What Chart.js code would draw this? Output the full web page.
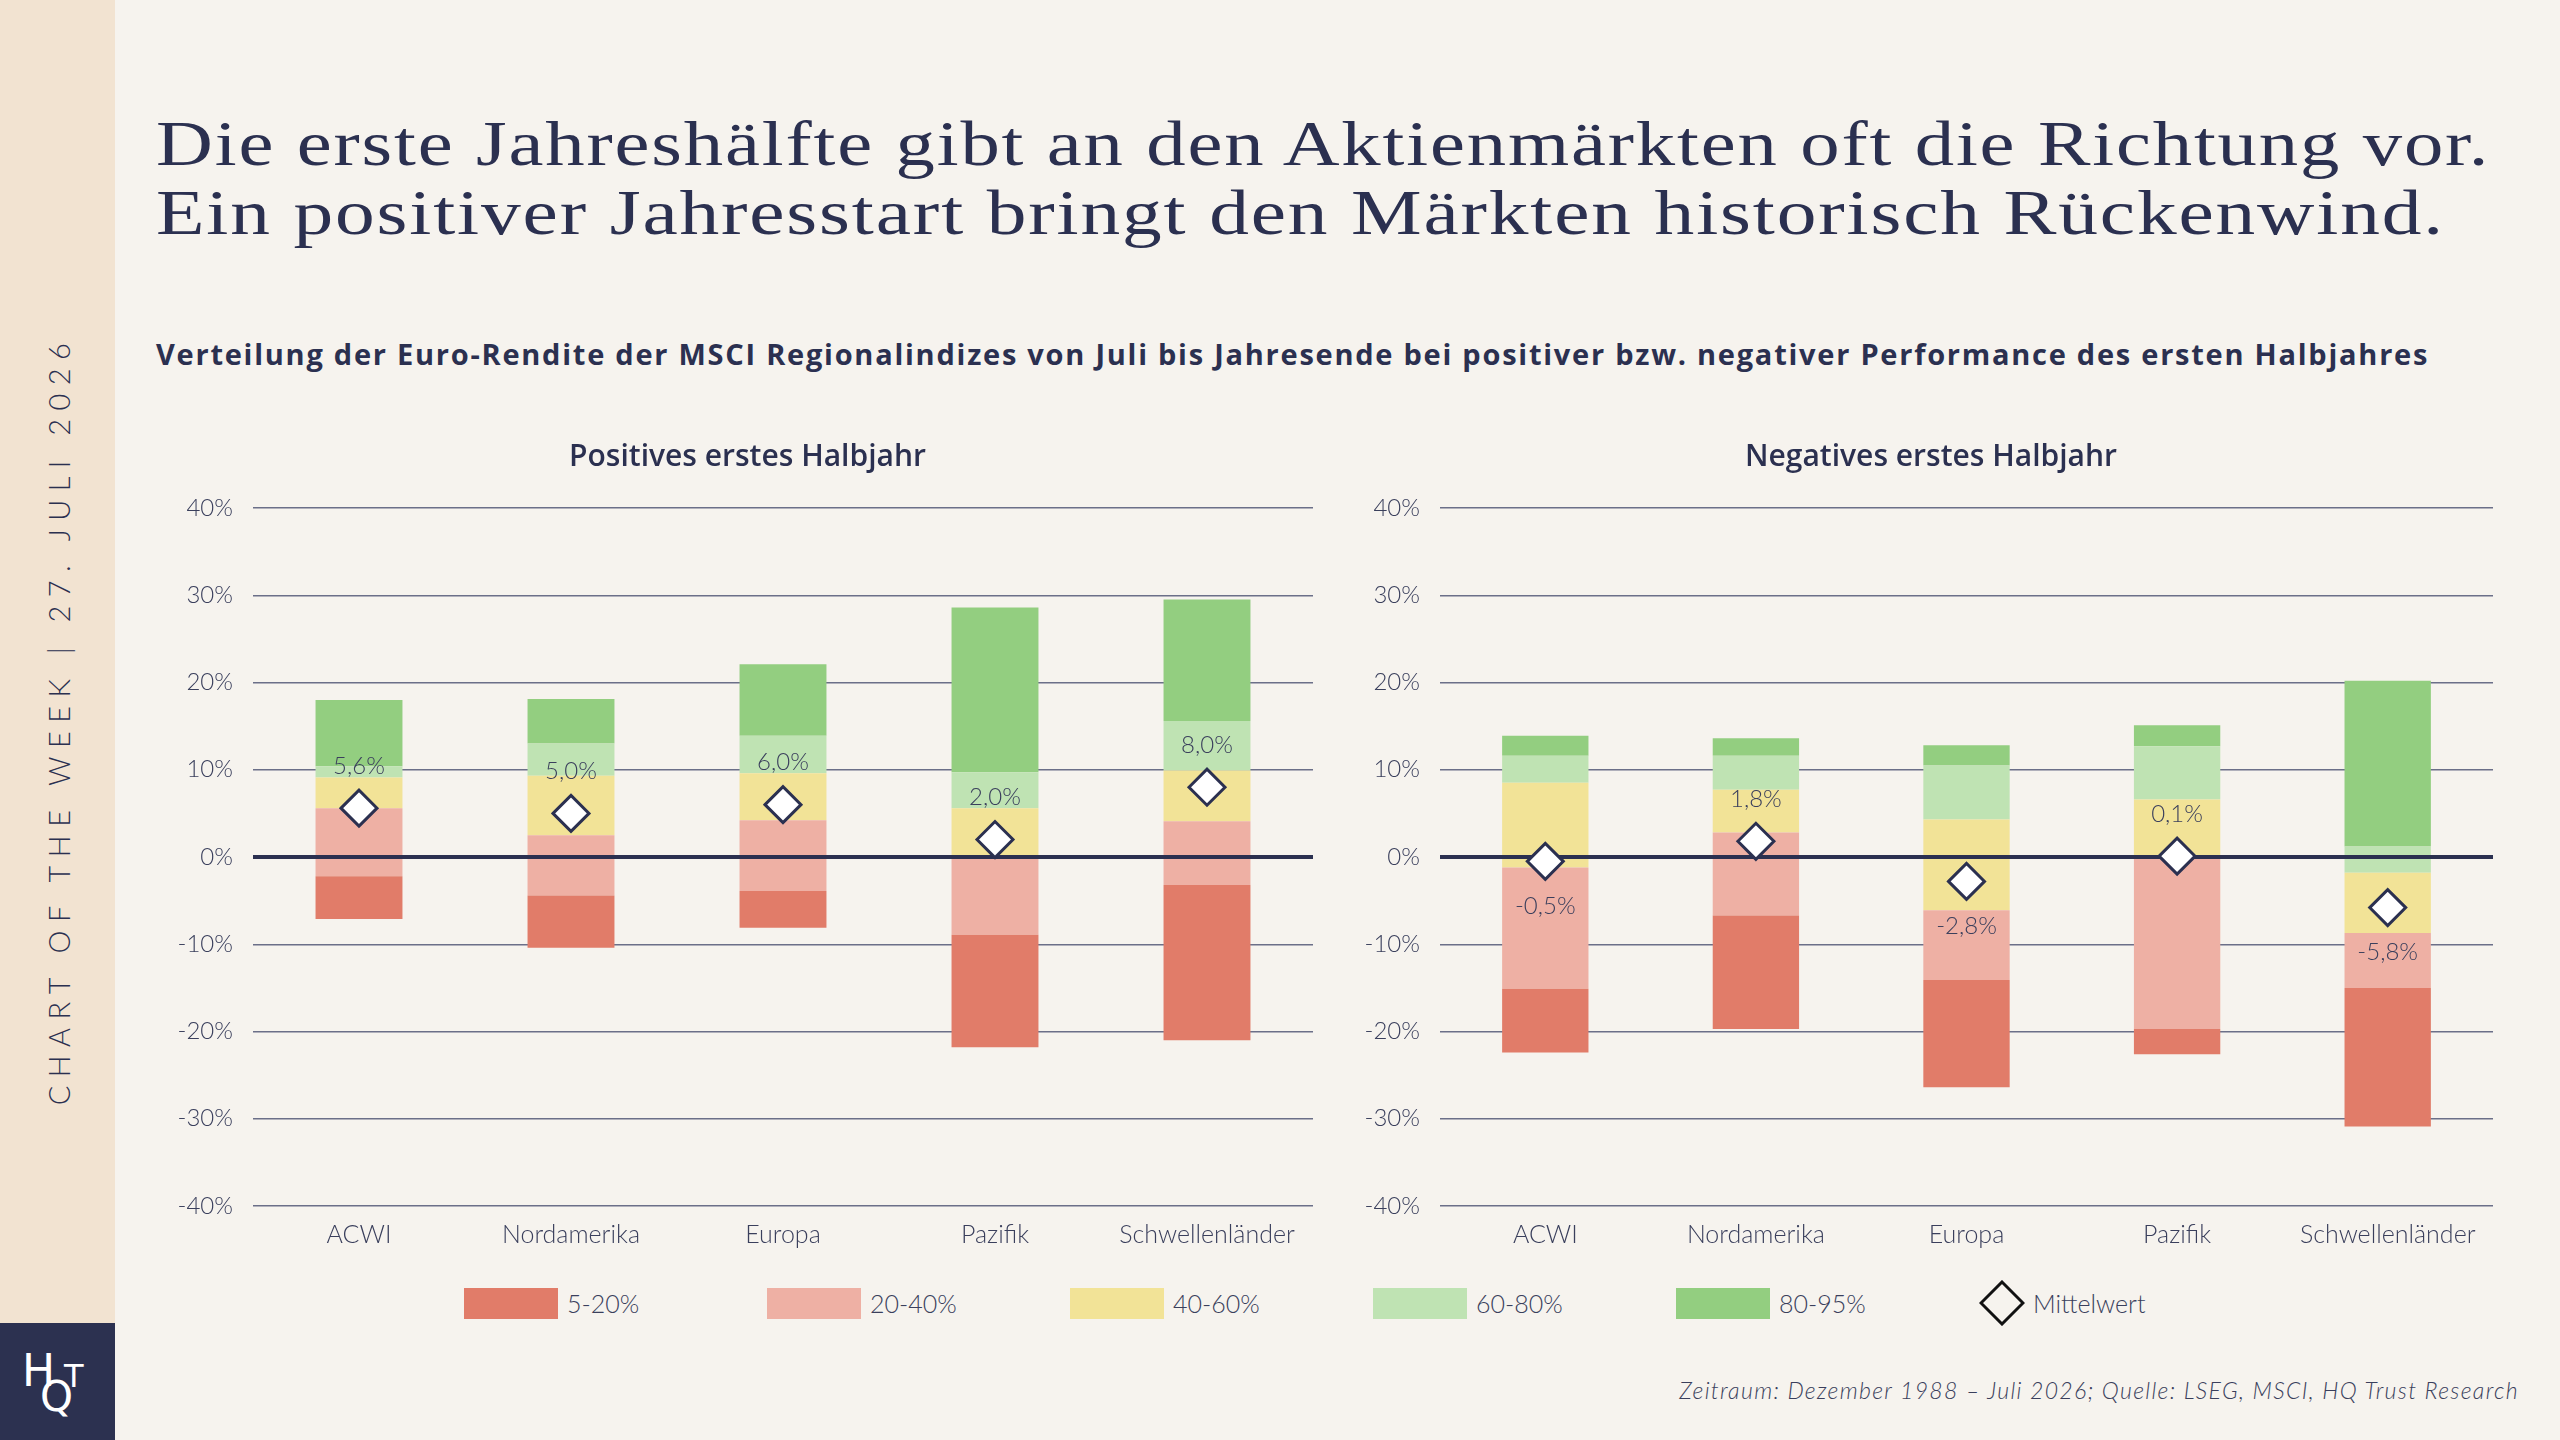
<!DOCTYPE html>
<html lang="de">
<head>
<meta charset="utf-8">
<title>Chart of the Week</title>
<script src="https://cdn.jsdelivr.net/npm/chart.js@4.4.1/dist/chart.umd.min.js"></script>
<style>
  html, body { margin: 0; padding: 0; }
  body {
    width: 2560px; height: 1440px; overflow: hidden; position: relative;
    background: #f6f3ee; color: #2b3050; font-family: 'Lato', sans-serif;
  }
  .sidebar { position: absolute; left: 0; top: 0; width: 115px; height: 1323px; background: #f2e3d1; }
  .sidetext {
    position: absolute; left: 58px; top: 720px; white-space: nowrap;
    transform: translate(-50%, -50%) rotate(-90deg);
    font: 300 29px 'Lato', sans-serif; color: #2b3050; text-transform: uppercase;
  }
  .logo { position: absolute; left: 0; top: 1323px; width: 115px; height: 117px; background: #2c3150; color: #fff; }
  .logo span { position: absolute; font-family: 'DejaVu Sans', sans-serif; line-height: 1; }
  .title {
    position: absolute; left: 156px; top: 109px; margin: 0;
    font: 400 64px 'Liberation Serif', serif; line-height: 69px; color: #2b3050;
  }
  .title span, .fit { display: inline-block; white-space: nowrap; }
  .title span { transform-origin: left center; }
  .subtitle { position: absolute; left: 156px; top: 334px; font: 700 29px 'Open Sans', sans-serif; color: #2b3050; }
  .chartbox { position: absolute; top: 420px; height: 830px; }
  .legend { position: absolute; top: 1287px; left: 464px; display: flex; }
  .legend .item { width: 303px; display: flex; align-items: center; height: 32px; }
  .legend .swatch { width: 94px; height: 31px; margin-right: 9px; }
  .legend .lbl { font: 300 25px 'Lato', sans-serif; color: #3a3f5c; }
  .footer {
    position: absolute; right: 41px; top: 1376px;
    font: italic 300 23px 'Lato', sans-serif; color: #3a3f5c;
  }
</style>
</head>
<body>
<div class="sidebar"></div>
<div class="sidetext fit" id="sidetext">Chart of the Week | 27. Juli 2026</div>
<div class="logo">
  <span style="left:22px;top:26px;font-size:44px">H</span>
  <span style="left:40px;top:53px;font-size:42px">Q</span>
  <span style="left:64px;top:37px;font-size:32px">T</span>
</div>

<div class="title">
  <span id="t1">Die erste Jahreshälfte gibt an den Aktienmärkten oft die Richtung vor.</span><br>
  <span id="t2">Ein positiver Jahresstart bringt den Märkten historisch Rückenwind.</span>
</div>
<div class="subtitle fit" id="sub">Verteilung der Euro-Rendite der MSCI Regionalindizes von Juli bis Jahresende bei positiver bzw. negativer Performance des ersten Halbjahres</div>

<div class="chartbox" style="left:160px;width:1175px"><canvas id="posChart"></canvas></div>
<div class="chartbox" style="left:1347px;width:1168px"><canvas id="negChart"></canvas></div>

<div class="legend" id="legend"></div>
<div class="footer fit" id="footer">Zeitraum: Dezember 1988 – Juli 2026; Quelle: LSEG, MSCI, HQ Trust Research</div>

<script>
// Regions
const categories = ['ACWI', 'Nordamerika', 'Europa', 'Pazifik', 'Schwellenländer'];

// Positive first half: percentiles of the July-December return (%)
const posQ05 = [-7.1, -10.4, -8.1, -21.8, -21.0];
const posQ20 = [-2.2, -4.4, -3.9, -8.9, -3.2];
const posQ40 = [5.6, 2.5, 4.2, 0.2, 4.1];
const posQ60 = [9.1, 9.3, 9.6, 5.6, 9.9];
const posQ80 = [10.4, 13.0, 13.9, 9.7, 15.6];
const posQ95 = [18.0, 18.1, 22.1, 28.6, 29.5];
const posMean = [5.6, 5.0, 6.0, 2.0, 8.0];

// Negative first half
const negQ05 = [-22.4, -19.7, -26.4, -22.6, -30.9];
const negQ20 = [-15.1, -6.7, -14.1, -19.7, -15.0];
const negQ40 = [-1.2, 2.8, -6.1, 0.0, -8.7];
const negQ60 = [8.5, 7.7, 4.3, 6.6, -1.8];
const negQ80 = [11.6, 11.6, 10.5, 12.7, 1.2];
const negQ95 = [13.9, 13.6, 12.8, 15.1, 20.2];
const negMean = [-0.5, 1.8, -2.8, 0.1, -5.8];

// Bands and axis
const bandLabels = ['5-20%', '20-40%', '40-60%', '60-80%', '80-95%'];
const bandColors = ['#e17c69', '#eeb0a4', '#f2e397', '#bfe3b3', '#93ce80'];
const meanLabel = 'Mittelwert';
const yTicks = [-40, -30, -20, -10, 0, 10, 20, 30, 40];

const NAVY = '#2b3050';
const GRID = '#6b6f88';
const TEXT = '#3a3f5c';

const fmtPct = v => v.toFixed(1).replace('.', ',') + '%';

// zero line above the bars, below the diamonds
const zeroLinePlugin = {
    id: 'zeroLine',
    beforeDatasetDraw(chart, args) {
        if (args.meta.type !== 'line') return;
        const y = chart.scales.y.getPixelForValue(0);
        const { left, right } = chart.chartArea;
        const ctx = chart.ctx;
        ctx.save();
        ctx.strokeStyle = NAVY;
        ctx.lineWidth = 4;
        ctx.beginPath();
        ctx.moveTo(left, y);
        ctx.lineTo(right, y);
        ctx.stroke();
        ctx.restore();
    }
};

// mean value labels: above the diamond for positive, below for negative
const meanLabelPlugin = {
    id: 'meanLabels',
    afterDatasetsDraw(chart) {
        const idx = chart.data.datasets.findIndex(d => d.type === 'line');
        const meta = chart.getDatasetMeta(idx);
        const values = chart.data.datasets[idx].data;
        const ctx = chart.ctx;
        ctx.save();
        ctx.font = '300 24px Lato, sans-serif';
        ctx.fillStyle = TEXT;
        ctx.textAlign = 'center';
        ctx.textBaseline = 'middle';
        meta.data.forEach((pt, i) => {
            const v = values[i];
            const y = v >= 0 ? pt.y - 42 : pt.y + 45;
            ctx.fillText(fmtPct(v), pt.x, y);
        });
        ctx.restore();
    }
};

function buildChart(canvasId, titleText, q05, q20, q40, q60, q80, q95, mean) {
    const bounds = [q05, q20, q40, q60, q80, q95];
    const datasets = bandLabels.map((label, b) => ({
        type: 'bar',
        label: label,
        data: categories.map((c, i) => [bounds[b][i], bounds[b + 1][i]]),
        backgroundColor: bandColors[b],
        borderWidth: 0,
        grouped: false,
        barPercentage: 0.41,
        categoryPercentage: 1,
        order: 1
    }));
    datasets.push({
        type: 'line',
        label: meanLabel,
        data: mean,
        showLine: false,
        pointStyle: 'rectRot',
        pointRadius: 18,
        pointBackgroundColor: '#ffffff',
        pointBorderColor: NAVY,
        pointBorderWidth: 3,
        order: 0
    });

    return new Chart(document.getElementById(canvasId), {
        type: 'bar',
        data: { labels: categories, datasets: datasets },
        plugins: [zeroLinePlugin, meanLabelPlugin],
        options: {
            responsive: true,
            maintainAspectRatio: false,
            animation: false,
            layout: { padding: 0, autoPadding: false },
            plugins: {
                legend: { display: false },
                tooltip: { enabled: false },
                title: {
                    display: true,
                    text: titleText,
                    color: NAVY,
                    font: { family: 'Open Sans', size: 30, weight: 600 },
                    padding: { top: 19, bottom: 33 }
                }
            },
            scales: {
                x: {
                    grid: { display: false },
                    border: { display: false },
                    ticks: { color: TEXT, font: { family: 'Lato', size: 25, weight: 300 }, padding: 6 },
                    afterFit: scale => {
                        scale.height = 44;
                        scale.paddingLeft = 0;
                        // keep room on the right so the title sits a bit right of the plot centre
                        scale.paddingRight = 22;
                    }
                },
                y: {
                    min: -40,
                    max: 40,
                    afterBuildTicks: scale => { scale.ticks = yTicks.map(v => ({ value: v })); },
                    border: { display: false },
                    grid: {
                        drawTicks: false,
                        color: ctx => ctx.tick.value === 0 ? 'rgba(0,0,0,0)' : GRID,
                        lineWidth: 1.5
                    },
                    ticks: {
                        color: TEXT,
                        padding: 20,
                        font: { family: 'Lato', size: 24, weight: 300 },
                        callback: v => v + '%'
                    },
                    afterFit: scale => {
                        scale.width = 93;
                        scale.paddingTop = 0;
                        scale.paddingBottom = 0;
                    }
                }
            }
        }
    });
}

// spread text to a target width through letter-spacing
function fitWidth(id, target) {
    const el = document.getElementById(id);
    const w = el.offsetWidth;
    const n = el.textContent.length;
    el.style.letterSpacing = ((target - w) / n) + 'px';
}

// light tracking, then stretch the rest horizontally
function fitStretch(id, target, spacing) {
    const el = document.getElementById(id);
    el.style.letterSpacing = spacing + 'px';
    el.style.transform = 'scaleX(' + (target / el.offsetWidth) + ')';
}

function buildLegend() {
    const box = document.getElementById('legend');
    bandLabels.forEach((label, b) => {
        const item = document.createElement('div');
        item.className = 'item';
        item.innerHTML = '<div class="swatch" style="background:' + bandColors[b] + '"></div><span class="lbl">' + label + '</span>';
        box.appendChild(item);
    });
    const m = document.createElement('div');
    m.className = 'item';
    m.innerHTML = '<svg width="46" height="46" style="margin-right:8px"><polygon points="23,2 44,23 23,44 2,23" fill="none" stroke="#111" stroke-width="3"/></svg><span class="lbl">' + meanLabel + '</span>';
    box.appendChild(m);
}

document.fonts.ready.then(() => {
    fitStretch('t1', 2334, 1.5);
    fitStretch('t2', 2289, 1.5);
    fitWidth('sub', 2273);
    fitWidth('sidetext', 771);
    fitWidth('footer', 840);
    buildLegend();
    buildChart('posChart', 'Positives erstes Halbjahr', posQ05, posQ20, posQ40, posQ60, posQ80, posQ95, posMean);
    buildChart('negChart', 'Negatives erstes Halbjahr', negQ05, negQ20, negQ40, negQ60, negQ80, negQ95, negMean);
});
</script>
</body>
</html>
